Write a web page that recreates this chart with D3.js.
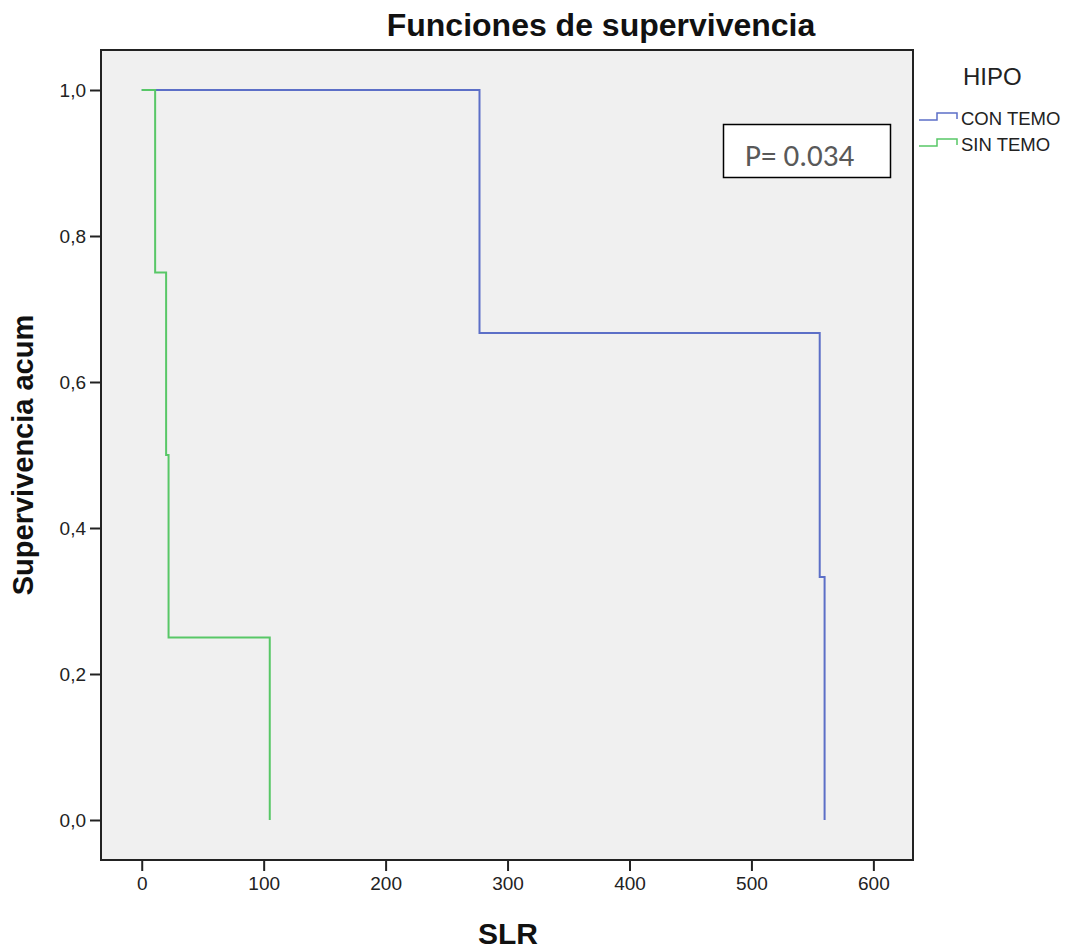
<!DOCTYPE html>
<html>
<head>
<meta charset="utf-8">
<script src="https://cdn.jsdelivr.net/npm/d3@7"></script>
<style>
  body { margin: 0; background: #fff; }
  svg text { font-family: Arial, "Liberation Sans", sans-serif; }
</style>
</head>
<body>
<svg id="chart" width="1073" height="950"></svg>
<script>
'use strict';

// survival steps: [time, survival]
const conTemo = [[0, 1], [277, 1], [277, 0.667], [556, 0.667], [556, 0.333], [560, 0.333], [560, 0]];
const sinTemo = [[0, 1], [11, 1], [11, 0.75], [20, 0.75], [20, 0.5], [22, 0.5], [22, 0.25], [105, 0.25], [105, 0]];
const xTicks = [0, 100, 200, 300, 400, 500, 600];
const yTicks = [0, 0.2, 0.4, 0.6, 0.8, 1.0];
const groups = ['CON TEMO', 'SIN TEMO'];
const colors = ['#5c6fc7', '#58c767'];

(function () {
    const svg = d3.select('#chart');

    const left = 101, right = 913, top = 50, bottom = 860;

    const x = d3.scaleLinear()
        .domain([-33.4, 632.5])
        .range([left, right]);

    const y = d3.scaleLinear()
        .domain([-0.0548, 1.0548])
        .range([bottom, top]);

    svg.append('rect')
        .attr('x', left)
        .attr('y', top)
        .attr('width', right - left)
        .attr('height', bottom - top)
        .attr('fill', '#f0f0f0');

    const line = d3.line()
        .x(d => x(d[0]))
        .y(d => y(d[1]));

    [conTemo, sinTemo].forEach((s, i) => {
        svg.append('path')
            .datum(s)
            .attr('d', line)
            .attr('fill', 'none')
            .attr('stroke', colors[i])
            .attr('stroke-width', 2);
    });

    svg.append('rect')
        .attr('x', left)
        .attr('y', top)
        .attr('width', right - left)
        .attr('height', bottom - top)
        .attr('fill', 'none')
        .attr('stroke', '#222')
        .attr('stroke-width', 2);

    const xAxis = svg.append('g')
        .attr('transform', `translate(0, ${bottom + 1})`)
        .call(d3.axisBottom(x)
            .tickValues(xTicks)
            .tickSize(10)
            .tickPadding(6)
            .tickFormat(d3.format('d')));

    const yAxis = svg.append('g')
        .attr('transform', `translate(${left - 1}, 0)`)
        .call(d3.axisLeft(y)
            .tickValues(yTicks)
            .tickSize(10)
            .tickPadding(4)
            .tickFormat(d => d3.format('.1f')(d).replace('.', ',')));

    [xAxis, yAxis].forEach(a => {
        a.select('.domain').remove();
        a.selectAll('.tick line').attr('stroke', '#222').attr('stroke-width', 2);
        a.selectAll('.tick text')
            .attr('fill', '#222')
            .style('font-size', '19px')
            .style('font-family', 'Arial, "Liberation Sans", sans-serif');
    });
    yAxis.selectAll('.tick text').attr('dy', '0.35em');

    svg.append('text')
        .attr('x', 601)
        .attr('y', 36)
        .attr('text-anchor', 'middle')
        .style('font-size', '32px')
        .style('font-weight', 'bold')
        .attr('fill', '#111')
        .text('Funciones de supervivencia');

    svg.append('text')
        .attr('x', 508)
        .attr('y', 944)
        .attr('text-anchor', 'middle')
        .style('font-size', '30px')
        .style('font-weight', 'bold')
        .attr('fill', '#111')
        .text('SLR');

    svg.append('text')
        .attr('transform', 'translate(33, 455) rotate(-90)')
        .attr('text-anchor', 'middle')
        .style('font-size', '29px')
        .style('font-weight', 'bold')
        .attr('fill', '#111')
        .text('Supervivencia acum');

    // legend
    svg.append('text')
        .attr('x', 963)
        .attr('y', 85)
        .style('font-size', '24px')
        .attr('fill', '#222')
        .text('HIPO');

    const legend = svg.append('g');
    groups.forEach((g, i) => {
        const cy = 120 + i * 26;
        legend.append('path')
            .attr('d', `M919,${cy}H937V${cy - 7}H957V${cy - 1}`)
            .attr('fill', 'none')
            .attr('stroke', colors[i])
            .attr('stroke-width', 1.5);
        legend.append('text')
            .attr('x', 961)
            .attr('y', cy + 5)
            .style('font-size', '18.5px')
            .attr('fill', '#222')
            .text(g);
    });

    // p-value box
    svg.append('rect')
        .attr('x', 723.5)
        .attr('y', 124.5)
        .attr('width', 167)
        .attr('height', 53)
        .attr('fill', '#fff')
        .attr('stroke', '#000')
        .attr('stroke-width', 1.5);

    svg.append('text')
        .attr('x', 745)
        .attr('y', 166)
        .style('font-size', '31px')
        .style('font-family', 'Carlito, Calibri, "Open Sans", sans-serif')
        .attr('fill', '#595959')
        .text('P= 0.034');
})();
</script>
</body>
</html>
